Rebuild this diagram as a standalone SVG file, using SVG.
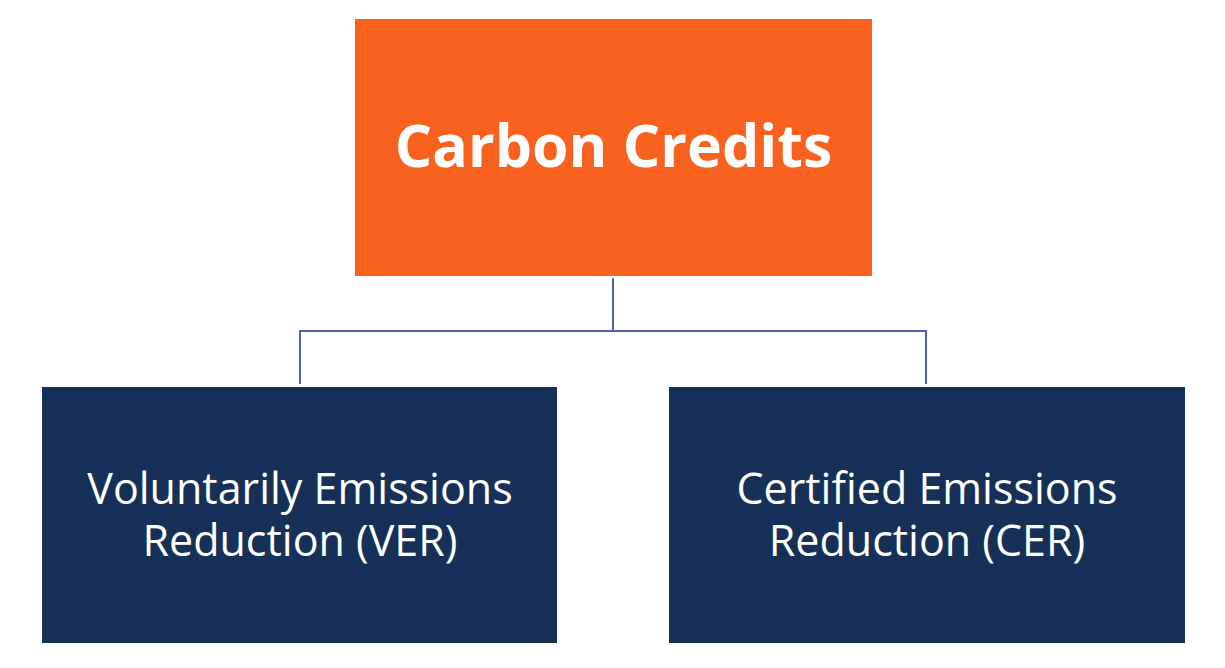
<svg xmlns="http://www.w3.org/2000/svg" width="1225" height="668" viewBox="0 0 1225 668">
<style>
.top{fill:#F9621E}
.sub{fill:#163057}
.t1{font-family:"Open Sans","Liberation Sans",sans-serif;font-weight:700;font-size:59px;fill:#fff;text-anchor:middle}
.t2{font-family:"Open Sans","Liberation Sans",sans-serif;font-weight:400;font-size:43px;fill:#fff;text-anchor:middle}
.conn{fill:none;stroke:#4A67A0;stroke-width:2}
</style>
<rect width="1225" height="668" fill="#fff"/>
<g id="connectors">
<path class="conn" d="M613,278 V331"/>
<path class="conn" d="M300,384 V331 H926 V384"/>
</g>
<g id="carbon-credits">
<rect class="top" x="355" y="19" width="517" height="257"/>
<text class="t1" x="613.5" y="167">Carbon Credits</text>
</g>
<g id="ver">
<rect class="sub" x="42" y="387" width="515" height="256"/>
<text class="t2" x="300" y="504">Voluntarily Emissions</text>
<text class="t2" x="300" y="556">Reduction (VER)</text>
</g>
<g id="cer">
<rect class="sub" x="669" y="387" width="516" height="256"/>
<text class="t2" x="927" y="504">Certified Emissions</text>
<text class="t2" x="927" y="556">Reduction (CER)</text>
</g>
</svg>
